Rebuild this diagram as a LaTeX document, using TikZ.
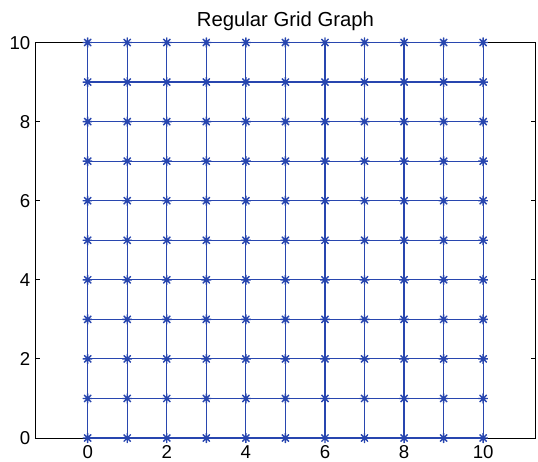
\documentclass[tikz,border=0pt]{standalone}
\usepackage{fontspec}
\setmainfont{Liberation Sans}
\usepackage{xcolor}
\usepackage{tikz}
\definecolor{gblue}{RGB}{40,70,175}
\tikzset{
  vx/.style={circle, inner sep=0pt, minimum size=2.6mm,
    path picture={
      \draw[gblue, line width=1pt]
        (path picture bounding box.north) -- (path picture bounding box.south)
        (path picture bounding box.west) -- (path picture bounding box.east)
        (path picture bounding box.north west) -- (path picture bounding box.south east)
        (path picture bounding box.south west) -- (path picture bounding box.north east);
    }},
  edge/.style={gblue, line width=0.85pt},
  axbox/.style={black, line width=0.6pt},
  ticklbl/.style={inner sep=0pt, font=\fontsize{13.4}{16}\selectfont},
}
\begin{document}
\begin{tikzpicture}
    \useasboundingbox (-2.217,-0.582) rectangle (11.386,11.075);
    % axes
    \draw[axbox] (-1.333,0) rectangle (11.333,10);
    \foreach \t in {0,2,...,10} {
      \draw[axbox] (-1.333,\t) -- ++(0.126,0);
      \draw[axbox] (11.333,\t) -- ++(-0.126,0);
      \draw[axbox] (\t,0) -- ++(0,0.126);
      \draw[axbox] (\t,10) -- ++(0,-0.126);
      \node[ticklbl, anchor=base east] (yl\t) at (-1.445,\t-0.168) {\t};
      \node[ticklbl, anchor=base] (xl\t) at (\t,-0.52) {\t};
    }
    \node[anchor=base, font=\fontsize{14.6}{17}\selectfont] (title) at (5,10.40) {Regular Grid Graph};
    % vertices
    \foreach \i in {0,...,10}
      \foreach \j in {0,...,10}
        \node[vx] (v\i-\j) at (\i,\j) {};
    % edges
    \foreach \i [evaluate=\i as \k using int(\i+1)] in {0,...,9}
      \foreach \j in {0,...,10} {
        \draw[edge] (v\i-\j.center) -- (v\k-\j.center);
        \draw[edge] (v\j-\i.center) -- (v\j-\k.center);
      }
\end{tikzpicture}
\end{document}
